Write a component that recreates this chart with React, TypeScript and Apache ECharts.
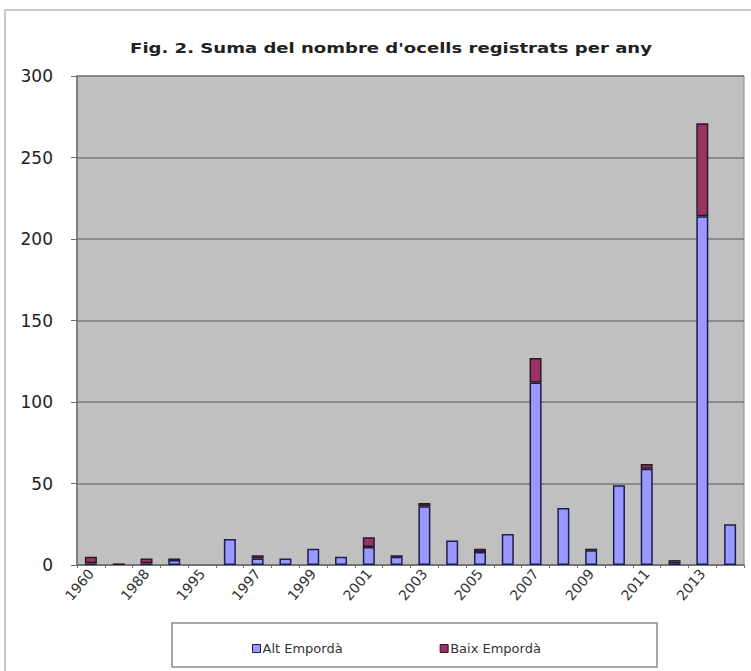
import React, { useEffect, useRef } from "react";
import * as echarts from "echarts";

const title = "Fig. 2. Suma del nombre d'ocells registrats per any";
const categories = [
  "1960", "1986", "1988", "1990", "1995", "1996", "1997", "1998", "1999", "2000",
  "2001", "2002", "2003", "2004", "2005", "2006", "2007", "2008", "2009", "2010",
  "2011", "2012", "2013", "2014",
];
const altEmporda = [1, 0, 1, 3, 0, 16, 4, 4, 10, 5, 11, 5, 36, 15, 8, 19, 112, 35, 9, 49, 59, 2, 214, 25];
const baixEmporda = [4, 1, 3, 1, 0, 0, 2, 0, 0, 0, 6, 1, 2, 0, 2, 0, 15, 0, 1, 0, 3, 1, 57, 0];
const seriesNames = ["Alt Empordà", "Baix Empordà"];

export default function App() {
  const ref = useRef<HTMLDivElement>(null);
  useEffect(() => {
    if (!ref.current) return;
    const chart = echarts.init(ref.current, null, { renderer: "svg" });
    const font = "DejaVu Sans, Liberation Sans, Arial, sans-serif";
    chart.setOption({
      animation: false,
      backgroundColor: "#ffffff",
      textStyle: { fontFamily: font },
      graphic: [
        {
          type: "rect",
          shape: { x: 5, y: 10, width: 760, height: 680 },
          style: { fill: "none", stroke: "#c8c8c8", lineWidth: 2 },
          silent: true,
        },
        {
          type: "text",
          x: 391,
          y: 48,
          scaleX: 1.29,
          style: {
            text: title,
            fill: "#222",
            font: "bold 14px " + font,
            textAlign: "center",
            textVerticalAlign: "middle",
          },
        },
        {
          type: "rect",
          shape: { x: 172, y: 623, width: 485, height: 44 },
          style: { fill: "#fff", stroke: "#8a8a8a", lineWidth: 1.5 },
          silent: true,
          z: -1,
        },
      ],
      legend: {
        left: 247,
        top: 637,
        itemWidth: 8,
        itemHeight: 8,
        itemGap: 97,
        itemStyle: { borderWidth: 1 },
        icon: "rect",
        textStyle: { fontSize: 13, color: "#333", fontFamily: font, padding: [0, 0, 0, -3] },
        data: seriesNames,
      },
      grid: {
        left: 77,
        right: 7,
        top: 76,
        bottom: 106,
        show: true,
        backgroundColor: "#c0c0c0",
        borderColor: "#8a8a8a",
        borderWidth: 1,
      },
      xAxis: {
        type: "category",
        data: categories,
        axisLine: { lineStyle: { color: "#6e6e6e", width: 1.5 } },
        axisTick: { show: true, interval: 0, length: 3, lineStyle: { color: "#6e6e6e" } },
        axisLabel: {
          interval: 1,
          rotate: 50,
          fontSize: 14,
          color: "#333",
          margin: 6,
          fontFamily: font,
        },
      },
      yAxis: {
        type: "value",
        min: 0,
        max: 300,
        interval: 50,
        axisLine: { show: true, lineStyle: { color: "#6e6e6e", width: 1.5 } },
        axisTick: { show: true, length: 6, lineStyle: { color: "#6e6e6e" } },
        axisLabel: { fontSize: 17, color: "#222", margin: 24, fontFamily: font },
        splitLine: { lineStyle: { color: "#7a7a7a", width: 1.5 } },
      },
      series: [
        {
          name: seriesNames[0],
          type: "bar",
          stack: "total",
          barWidth: 12,
          data: altEmporda.map((v) => (v === 0 ? null : v)),
          itemStyle: { color: "#9999ff", borderColor: "#1c1c50", borderWidth: 1.5 },
        },
        {
          name: seriesNames[1],
          type: "bar",
          stack: "total",
          barWidth: 12,
          data: baixEmporda.map((v) => (v === 0 ? null : v)),
          itemStyle: { color: "#993366", borderColor: "#2a1a20", borderWidth: 1.5 },
        },
      ],
    });
    return () => chart.dispose();
  }, []);
  return (
    <div
      ref={ref}
      style={{ position: "fixed", left: 0, top: 0, width: 751, height: 671 }}
    />
  );
}
